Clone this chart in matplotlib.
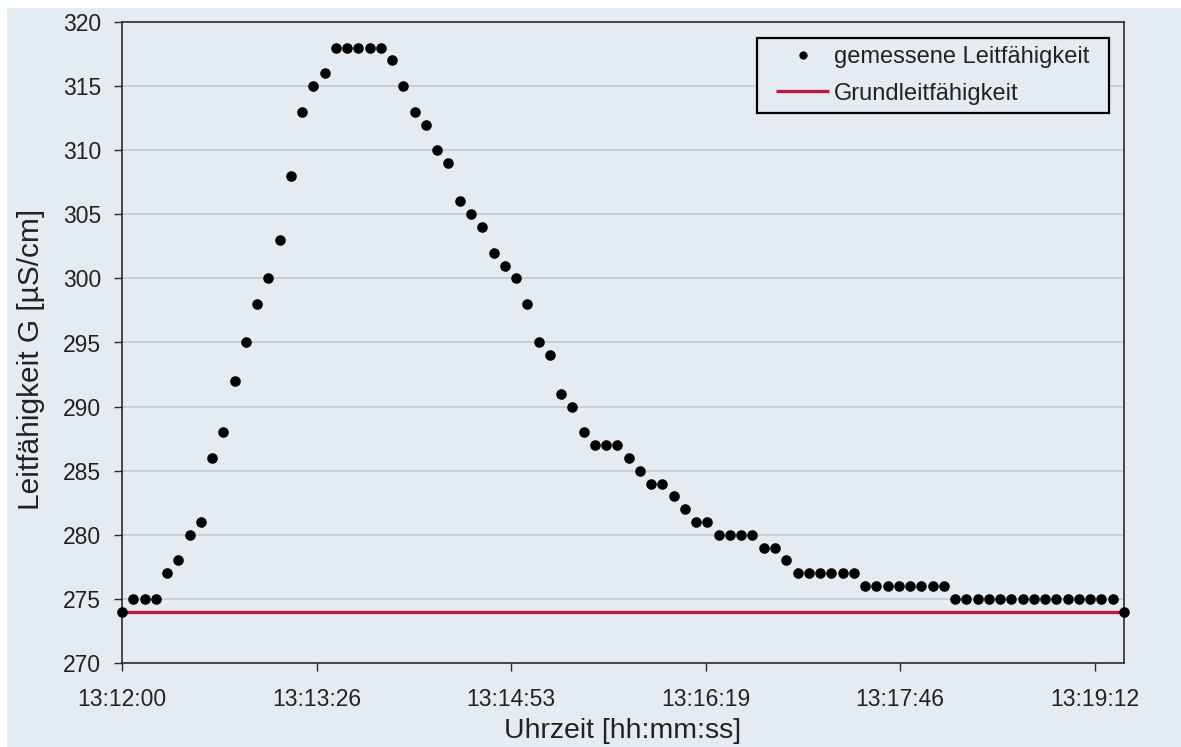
import matplotlib
matplotlib.use("Agg")
import matplotlib.pyplot as plt
from matplotlib.patches import Rectangle
from matplotlib.ticker import FixedLocator, FuncFormatter, MultipleLocator

# Conductivity logger record (one reading every 5 s, start 13:12:00)
start_time = (13, 12, 0)
sample_interval_s = 5
conductivity = [
    274, 275, 275, 275, 277, 278, 280, 281, 286, 288,
    292, 295, 298, 300, 303, 308, 313, 315, 316, 318,
    318, 318, 318, 318, 317, 315, 313, 312, 310, 309,
    306, 305, 304, 302, 301, 300, 298, 295, 294, 291,
    290, 288, 287, 287, 287, 286, 285, 284, 284, 283,
    282, 281, 281, 280, 280, 280, 280, 279, 279, 278,
    277, 277, 277, 277, 277, 277, 276, 276, 276, 276,
    276, 276, 276, 276, 275, 275, 275, 275, 275, 275,
    275, 275, 275, 275, 275, 275, 275, 275, 275, 274,
]
base_conductivity = 274.0

# Time axis: major unit of 0.001 day (86.4 s)
x_major_s = 86.4
y_min, y_max, y_step = 270, 320, 5

label_measured = "gemessene Leitfähigkeit"
label_base = "Grundleitfähigkeit"
x_label = "Uhrzeit [hh:mm:ss]"
y_label = "Leitfähigkeit G [µS/cm]"

bg = "#e4ecf2"
dark = "#222222"
red = "#c0173f"

plt.rcParams["font.family"] = ["Liberation Sans", "DejaVu Sans"]

t = [i * sample_interval_s for i in range(len(conductivity))]
t_end = t[-1]

W, H = 1181, 747
fig = plt.figure(figsize=(W / 100, H / 100), dpi=100)
fig.patch.set_facecolor("white")
fig.add_artist(Rectangle((7 / W, -0.1), 1.2, 1.1 - 8 / H, transform=fig.transFigure,
                         facecolor=bg, edgecolor="none", zorder=-10))

ax = fig.add_axes([122 / W, 1 - 663 / H, 1002 / W, 641 / H])
ax.set_facecolor(bg)

ax.plot([0, t_end], [base_conductivity, base_conductivity], color=red, lw=2.4,
        label=label_base, zorder=2, solid_capstyle="butt")
ax.plot(t, conductivity, linestyle="none", marker="o", markersize=6.6,
        color="black", label=label_measured, zorder=3, clip_on=False)

ax.set_xlim(0, t_end)
ax.set_ylim(y_min, y_max)
ax.yaxis.set_major_locator(MultipleLocator(y_step))
ax.xaxis.set_major_locator(FixedLocator([k * x_major_s for k in range(6)]))


def fmt_time(s, pos=None):
    h0, m0, s0 = start_time
    total = int(round(h0 * 3600 + m0 * 60 + s0 + s))
    return f"{total // 3600:02d}:{(total % 3600) // 60:02d}:{total % 60:02d}"


ax.xaxis.set_major_formatter(FuncFormatter(fmt_time))

ax.grid(axis="y", color="#c8ccd0", lw=1.3)
ax.set_axisbelow(True)
for sp in ax.spines.values():
    sp.set_color("#2b2b2b")
    sp.set_linewidth(1.2)

ax.tick_params(axis="both", direction="out", length=6, width=1.0, color="#2b2b2b",
               labelsize=16.5, labelcolor=dark)
ax.tick_params(axis="y", pad=9)
ax.tick_params(axis="x", pad=12)

ax.set_xlabel(x_label, fontsize=20.5, color=dark, labelpad=5)
ax.set_ylabel(y_label, fontsize=21.5, color=dark)
ax.yaxis.set_label_coords(-0.077, 0.473)

# Legend entries without frame; the box is drawn separately with wider side margins
h_base, h_meas = ax.get_legend_handles_labels()[0]
leg = ax.legend([h_meas, h_base], [label_measured, label_base],
                loc="upper left", bbox_to_anchor=((776 - 122) / 1002, (663 - 46) / 641),
                borderaxespad=0, fontsize=17, frameon=False, markerscale=0.75,
                handlelength=2.25, handletextpad=0.22, borderpad=0.0, labelspacing=0.62)
for txt in leg.get_texts():
    txt.set_color(dark)

fig.canvas.draw()
bb = leg.get_window_extent()
pad_x, pad_y = 19, 8
to_axes = ax.transAxes.inverted()
(x0, y0), (x1, y1) = to_axes.transform([(bb.x0 - pad_x, bb.y0 - pad_y),
                                        (bb.x1 + pad_x, bb.y1 + pad_y)])
ax.add_patch(Rectangle((x0, y0), x1 - x0, y1 - y0, transform=ax.transAxes,
                       facecolor=bg, edgecolor="black", lw=1.6, zorder=4.5,
                       clip_on=False))

fig.savefig("out.png", dpi=100, facecolor=fig.get_facecolor())
